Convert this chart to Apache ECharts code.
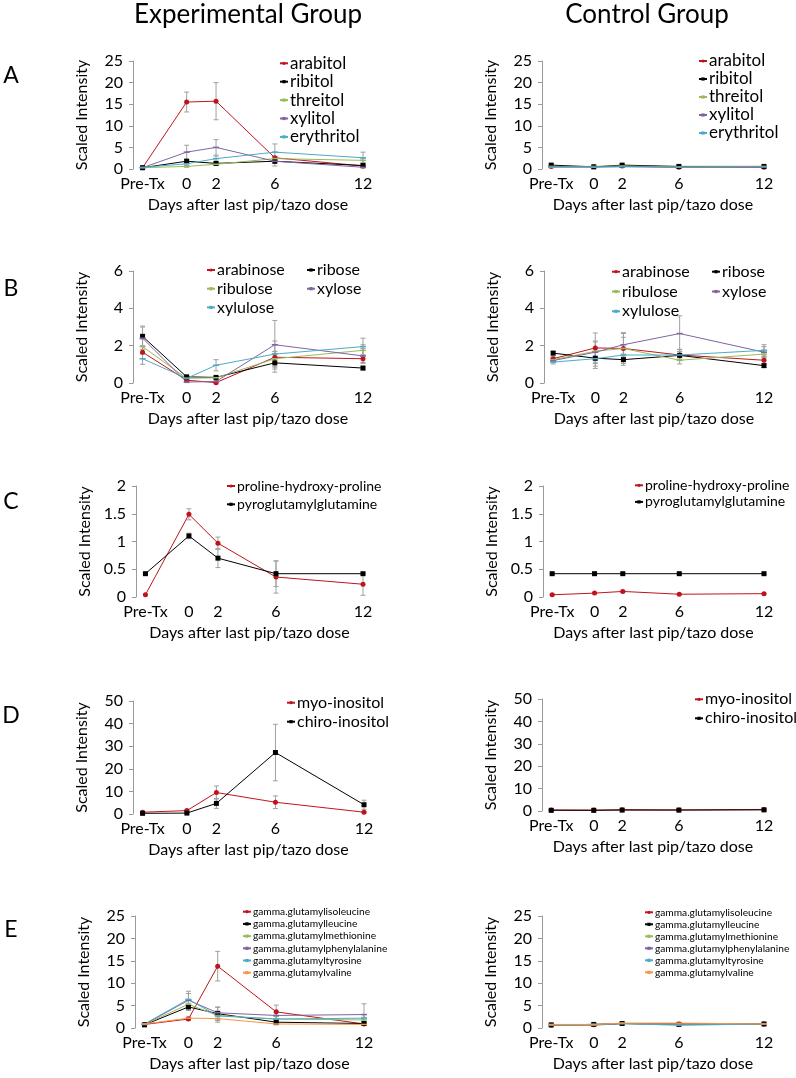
<!DOCTYPE html>
<html><head><meta charset="utf-8">
<script src="https://cdn.jsdelivr.net/npm/echarts@6/dist/echarts.min.js"></script>
<style>html,body{margin:0;padding:0;background:#fff}#c{width:796px;height:1078px}</style>
</head><body><div id="c"></div>
<script>
// ---------- DATA ----------
const days = [-3, 0, 2, 6, 12];
const dayLabels = ['Pre-Tx', '0', '2', '6', '12'];
const groupTitles = ['Experimental Group', 'Control Group'];
const panelLetters = ['A', 'B', 'C', 'D', 'E'];
const yTitle = 'Scaled Intensity';
const xTitle = 'Days after last pip/tazo dose';

const A_names = ['arabitol', 'ribitol', 'threitol', 'xylitol', 'erythritol'];
const A_exp = [
  [0.3, 15.5, 15.7, 2.6, 0.7],
  [0.3, 1.8, 1.3, 1.8, 0.8],
  [0.3, 0.6, 1.1, 2.4, 2.0],
  [0.3, 3.9, 5.0, 1.8, 0.4],
  [0.4, 1.2, 2.4, 3.9, 2.6]
];
const A_exp_err = [
  [0.1, 2.3, 4.3, 0.3, 0.2],
  [0.1, 0.3, 0.3, 1.1, 0.2],
  [0.1, 0.2, 0.3, 0.5, 0.5],
  [0.1, 1.6, 1.8, 0.5, 0.2],
  [0.1, 0.5, 0.6, 1.9, 1.3]
];
const A_ctl = [
  [0.6, 0.5, 0.7, 0.4, 0.4],
  [0.9, 0.5, 0.9, 0.6, 0.6],
  [0.6, 0.6, 0.7, 0.5, 0.6],
  [0.5, 0.5, 0.6, 0.4, 0.5],
  [0.4, 0.4, 0.5, 0.4, 0.5]
];
const A_ctl_err = [
  [0.1, 0.1, 0.1, 0.1, 0.1],
  [0.1, 0.1, 0.1, 0.1, 0.1],
  [0.1, 0.1, 0.1, 0.1, 0.1],
  [0.1, 0.1, 0.1, 0.1, 0.1],
  [0.1, 0.1, 0.1, 0.1, 0.1]
];

const B_names = ['arabinose', 'ribose', 'ribulose', 'xylose', 'xylulose'];
const B_exp = [
  [1.65, 0.15, 0.02, 1.38, 1.30],
  [2.50, 0.33, 0.30, 1.08, 0.80],
  [1.95, 0.25, 0.28, 1.30, 1.75],
  [2.40, 0.05, 0.08, 2.05, 1.45],
  [1.30, 0.25, 0.95, 1.55, 1.95]
];
const B_exp_err = [
  [0.35, 0.05, 0.05, 0.30, 0.20],
  [0.55, 0.05, 0.05, 0.50, 0.10],
  [0.40, 0.05, 0.05, 0.40, 0.30],
  [0.60, 0.03, 0.05, 1.30, 0.40],
  [0.30, 0.05, 0.30, 0.70, 0.45]
];
const B_ctl = [
  [1.30, 1.88, 1.85, 1.50, 1.22],
  [1.60, 1.33, 1.25, 1.48, 0.93],
  [1.25, 1.70, 1.85, 1.22, 1.55],
  [1.20, 1.65, 2.05, 2.65, 1.65],
  [1.12, 1.30, 1.50, 1.50, 1.75]
];
const B_ctl_err = [
  [0.10, 0.80, 0.80, 0.30, 0.20],
  [0.10, 0.55, 0.30, 0.20, 0.10],
  [0.10, 0.50, 0.60, 0.20, 0.20],
  [0.10, 0.60, 0.65, 0.95, 0.30],
  [0.10, 0.40, 0.30, 0.30, 0.30]
];

const C_names = ['proline-hydroxy-proline', 'pyroglutamylglutamine'];
const C_exp = [
  [0.04, 1.49, 0.97, 0.36, 0.23],
  [0.42, 1.10, 0.70, 0.42, 0.42]
];
const C_exp_err = [
  [0.01, 0.10, 0.11, 0.29, 0.20],
  [0.01, 0.05, 0.17, 0.23, 0.01]
];
const C_ctl = [
  [0.04, 0.07, 0.10, 0.05, 0.06],
  [0.42, 0.42, 0.42, 0.42, 0.42]
];
const C_ctl_err = [
  [0.01, 0.01, 0.02, 0.01, 0.01],
  [0.01, 0.01, 0.01, 0.01, 0.01]
];

const D_names = ['myo-inositol', 'chiro-inositol'];
const D_exp = [
  [0.8, 1.5, 9.5, 5.2, 0.8],
  [0.3, 0.4, 4.7, 27.2, 4.1]
];
const D_exp_err = [
  [0.3, 0.4, 2.9, 2.8, 0.3],
  [0.1, 0.2, 2.2, 12.5, 2.0]
];
const D_ctl = [
  [0.5, 0.4, 0.6, 0.5, 0.7],
  [0.3, 0.3, 0.4, 0.4, 0.5]
];
const D_ctl_err = [
  [0.1, 0.1, 0.1, 0.1, 0.1],
  [0.1, 0.1, 0.1, 0.1, 0.1]
];

const E_names = ['gamma.glutamylisoleucine', 'gamma.glutamylleucine', 'gamma.glutamylmethionine',
  'gamma.glutamylphenylalanine', 'gamma.glutamyltyrosine', 'gamma.glutamylvaline'];
const E_exp = [
  [0.8, 2.0, 13.8, 3.6, 0.9],
  [0.7, 4.7, 3.2, 1.3, 1.0],
  [0.8, 5.3, 2.8, 2.0, 1.8],
  [0.8, 6.2, 3.4, 2.8, 3.0],
  [0.9, 6.4, 2.7, 2.0, 2.2],
  [0.9, 2.2, 2.1, 0.9, 0.8]
];
const E_exp_err = [
  [0.1, 0.3, 3.3, 1.5, 0.3],
  [0.1, 0.8, 1.5, 0.4, 0.3],
  [0.1, 1.0, 1.0, 0.6, 0.6],
  [0.1, 1.5, 1.2, 0.8, 2.4],
  [0.1, 1.8, 1.0, 0.6, 0.8],
  [0.1, 0.3, 0.8, 0.2, 0.2]
];
const E_ctl = [
  [0.6, 0.7, 1.0, 0.9, 0.9],
  [0.7, 0.8, 1.0, 0.8, 0.9],
  [0.6, 0.6, 1.0, 0.8, 0.9],
  [0.7, 0.7, 1.0, 0.9, 1.0],
  [0.7, 0.8, 1.0, 0.6, 0.9],
  [0.8, 0.8, 1.1, 1.1, 0.9]
];
const E_ctl_err = [
  [0.1, 0.1, 0.1, 0.1, 0.1],
  [0.1, 0.1, 0.1, 0.1, 0.1],
  [0.1, 0.1, 0.1, 0.1, 0.1],
  [0.1, 0.1, 0.1, 0.1, 0.1],
  [0.1, 0.1, 0.1, 0.1, 0.1],
  [0.1, 0.1, 0.1, 0.1, 0.1]
];

const yMaxes = [25, 6, 2, 50, 25];
const yIntervals = [5, 2, 0.5, 10, 5];

// ---------- STYLE / LAYOUT ----------
const FONT = 'Lato';
const palette = ['#C0141C', '#000000', '#9BBB59', '#8064A2', '#4BACC6', '#F79646'];
const AX = '#9a9a9a';
const ERR = '#a0a0a0';

const panelData = [
  [A_names, A_exp, A_exp_err, A_ctl, A_ctl_err],
  [B_names, B_exp, B_exp_err, B_ctl, B_ctl_err],
  [C_names, C_exp, C_exp_err, C_ctl, C_ctl_err],
  [D_names, D_exp, D_exp_err, D_ctl, D_ctl_err],
  [E_names, E_exp, E_exp_err, E_ctl, E_ctl_err]
];

// grid geometry [left, top, width, height] for [exp, ctl]
const gridGeo = [
  [[133, 61, 230, 108], [542, 61, 222, 108]],
  [[133, 271, 230, 112], [544, 271, 220, 112]],
  [[136, 486, 227, 111], [543, 486, 221, 111]],
  [[133, 701, 231, 113], [542, 699, 222, 112]],
  [[135, 916, 229, 112], [542, 916, 222, 112]]
];
// legend geometry: [left, firstRowCenter, rowHeight, fontSize, col2Left]
const legendGeo = [
  [[279, 63.3, 18.4, 17, null], [698, 61, 18, 17, null]],
  [[206, 270, 18.7, 16, 306], [611, 271.7, 19.8, 16, 711]],
  [[226, 486, 18.3, 14, null], [634, 485.3, 16.6, 14, null]],
  [[286, 702.7, 19, 16, null], [694, 699.3, 19, 16, null]],
  [[242, 911.7, 12.2, 10.2, null], [644, 912.3, 12, 10.2, null]]
];
const letterY = [76, 289, 502, 716, 930];

function errRender(params, api) {
  const x = api.value(0), lo = api.value(1), hi = api.value(2);
  const p1 = api.coord([x, hi]), p2 = api.coord([x, lo]);
  const w = 2.5;
  const style = { stroke: ERR, lineWidth: 1 };
  return {
    type: 'group', children: [
      { type: 'line', shape: { x1: p1[0], y1: p1[1], x2: p2[0], y2: p2[1] }, style },
      { type: 'line', shape: { x1: p1[0] - w, y1: p1[1], x2: p1[0] + w, y2: p1[1] }, style },
      { type: 'line', shape: { x1: p2[0] - w, y1: p2[1], x2: p2[0] + w, y2: p2[1] }, style }
    ]
  };
}

const grids = [], xAxes = [], yAxes = [], series = [], legends = [], graphics = [];

groupTitles.forEach((t, i) => {
  graphics.push({ type: 'text', x: i === 0 ? 248 : 647, y: 15,
    style: { text: t, font: '26px ' + FONT, fill: '#000', textAlign: 'center', textVerticalAlign: 'middle' } });
});
panelLetters.forEach((l, i) => {
  graphics.push({ type: 'text', x: 11, y: letterY[i],
    style: { text: l, font: '23px ' + FONT, fill: '#000', textAlign: 'center', textVerticalAlign: 'middle' } });
});

panelData.forEach((pd, p) => {
  const names = pd[0];
  [[pd[1], pd[2]], [pd[3], pd[4]]].forEach((vals, side) => {
    const gi = grids.length;
    const g = gridGeo[p][side];
    grids.push({ left: g[0], top: g[1], width: g[2], height: g[3] });
    xAxes.push({
      type: 'value', gridIndex: gi, min: -3.65, max: 12,
      axisLine: { show: false, onZero: false }, axisTick: { show: false }, splitLine: { show: false },
      axisLabel: {
        customValues: days, margin: 7, color: '#000', fontSize: 16, fontFamily: FONT,
        formatter: v => dayLabels[days.indexOf(v)]
      },
      name: xTitle, nameLocation: 'middle', nameGap: 28,
      nameTextStyle: { color: '#000', fontSize: 16, fontFamily: FONT }
    });
    yAxes.push({
      type: 'value', gridIndex: gi, min: 0, max: yMaxes[p], interval: yIntervals[p],
      axisLine: { show: true, onZero: false, lineStyle: { color: AX, width: 1 } },
      axisTick: { show: true, length: 4, lineStyle: { color: AX } },
      splitLine: { show: false },
      axisLabel: { color: '#000', fontSize: 16, fontFamily: FONT, margin: 10 },
      name: yTitle, nameLocation: 'middle', nameGap: 43, nameRotate: 90,
      nameTextStyle: { color: '#000', fontSize: 16, fontFamily: FONT }
    });
    // error bars
    const errData = [];
    vals[0].forEach((arr, s) => {
      arr.forEach((v, k) => {
        const e = vals[1][s][k];
        errData.push([days[k], v - e, v + e]);
      });
    });
    series.push({
      type: 'custom', xAxisIndex: gi, yAxisIndex: gi, renderItem: errRender,
      data: errData, encode: { x: 0, y: [1, 2] }, z: 1, silent: true, clip: false
    });
    // lines
    vals[0].forEach((arr, s) => {
      const col = palette[s];
      let symbol = 'rect', size = [6, 1.5];
      if (s === 0) { symbol = 'circle'; size = 5; }
      else if (s === 1) { symbol = 'rect'; size = 5; }
      series.push({
        type: 'line', name: names[s], xAxisIndex: gi, yAxisIndex: gi,
        data: arr.map((v, k) => [days[k], v]),
        symbol: symbol, symbolSize: size, showSymbol: true,
        lineStyle: { color: col, width: 1 }, itemStyle: { color: col },
        z: 3, animation: false
      });
    });
    // legend
    const lg = legendGeo[p][side];
    const cols = lg[4] === null ? [names] :
      [names.filter((n, i) => i % 2 === 0), names.filter((n, i) => i % 2 === 1)];
    cols.forEach((cn, ci) => {
      legends.push({
        orient: 'vertical', left: ci === 0 ? lg[0] : lg[4], top: lg[1] - lg[2] / 2,
        data: cn, itemGap: 0, itemWidth: 8, itemHeight: 4, padding: 0,
        selectedMode: false,
        textStyle: { fontSize: lg[3], fontFamily: FONT, color: '#000', lineHeight: lg[2], padding: [0, 0, 0, -3] }
      });
    });
  });
});

const chart = echarts.init(document.getElementById('c'));
chart.setOption({
  animation: false,
  backgroundColor: '#fff',
  grid: grids, xAxis: xAxes, yAxis: yAxes, series: series, legend: legends,
  graphic: graphics
});
</script>
</body></html>
